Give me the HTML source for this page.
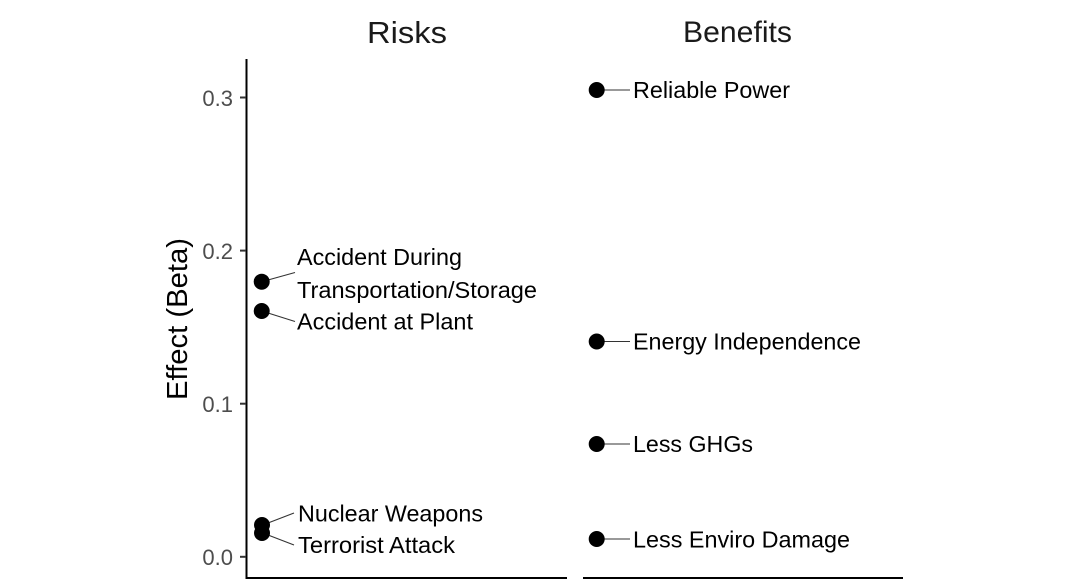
<!DOCTYPE html>
<html><head><meta charset="utf-8"><style>
html,body{margin:0;padding:0;background:#fff;}
svg{display:block;}
text{font-family:"Liberation Sans",Arial,sans-serif;}
</style></head><body>
<svg width="1068" height="580" viewBox="0 0 1068 580" xmlns="http://www.w3.org/2000/svg">
<rect width="1068" height="580" fill="#fff"/>
<!-- titles -->
<text x="367" y="43" font-size="31" fill="#1a1a1a" textLength="80" lengthAdjust="spacingAndGlyphs">Risks</text>
<text x="683" y="42" font-size="30" fill="#1a1a1a" textLength="109" lengthAdjust="spacingAndGlyphs">Benefits</text>
<!-- y axis title -->
<text transform="translate(187,319) rotate(-90)" text-anchor="middle" font-size="29" fill="#000" textLength="162" lengthAdjust="spacingAndGlyphs">Effect (Beta)</text>
<!-- axes -->
<line x1="246.5" y1="59" x2="246.5" y2="579" stroke="#000" stroke-width="2"/>
<line x1="246" y1="578" x2="567" y2="578" stroke="#000" stroke-width="2"/>
<line x1="583" y1="578" x2="903" y2="578" stroke="#000" stroke-width="2"/>
<!-- ticks -->
<g stroke="#333" stroke-width="2">
<line x1="240" y1="97.5" x2="246" y2="97.5"/>
<line x1="240" y1="250.6" x2="246" y2="250.6"/>
<line x1="240" y1="403.7" x2="246" y2="403.7"/>
<line x1="240" y1="556.8" x2="246" y2="556.8"/>
</g>
<g font-size="22" fill="#4d4d4d" text-anchor="end">
<text x="233" y="106">0.3</text>
<text x="233" y="259">0.2</text>
<text x="233" y="412">0.1</text>
<text x="233" y="565">0.0</text>
</g>
<!-- connectors -->
<g stroke="#333" stroke-width="1.1">
<line x1="268" y1="280" x2="295" y2="272.5"/>
<line x1="268" y1="313" x2="295" y2="321.5"/>
<line x1="268" y1="523" x2="294" y2="513"/>
<line x1="268" y1="535" x2="294" y2="545"/>
<line x1="603" y1="90" x2="630" y2="90"/>
<line x1="603" y1="341.5" x2="630" y2="341.5"/>
<line x1="603" y1="444" x2="630" y2="444"/>
<line x1="603" y1="539" x2="630" y2="539"/>
</g>
<!-- points -->
<g fill="#000">
<circle cx="261.7" cy="281.7" r="8"/>
<circle cx="261.7" cy="311" r="8"/>
<circle cx="262" cy="525" r="8"/>
<circle cx="262" cy="533" r="8"/>
<circle cx="596.7" cy="90" r="8"/>
<circle cx="596.7" cy="341.5" r="8"/>
<circle cx="596.7" cy="444" r="8"/>
<circle cx="596.7" cy="539" r="8"/>
</g>
<!-- labels -->
<g font-size="23" fill="#000">
<text x="297" y="265" textLength="165" lengthAdjust="spacingAndGlyphs">Accident During</text>
<text x="297" y="298" textLength="240" lengthAdjust="spacingAndGlyphs">Transportation/Storage</text>
<text x="297" y="329.5" textLength="176" lengthAdjust="spacingAndGlyphs">Accident at Plant</text>
<text x="298" y="521.5" textLength="185" lengthAdjust="spacingAndGlyphs">Nuclear Weapons</text>
<text x="298" y="553" textLength="157" lengthAdjust="spacingAndGlyphs">Terrorist Attack</text>
<text x="633" y="98" textLength="157" lengthAdjust="spacingAndGlyphs">Reliable Power</text>
<text x="633" y="349.5" textLength="228" lengthAdjust="spacingAndGlyphs">Energy Independence</text>
<text x="633" y="452" textLength="120" lengthAdjust="spacingAndGlyphs">Less GHGs</text>
<text x="633" y="547.5" textLength="217" lengthAdjust="spacingAndGlyphs">Less Enviro Damage</text>
</g>
</svg>
</body></html>
